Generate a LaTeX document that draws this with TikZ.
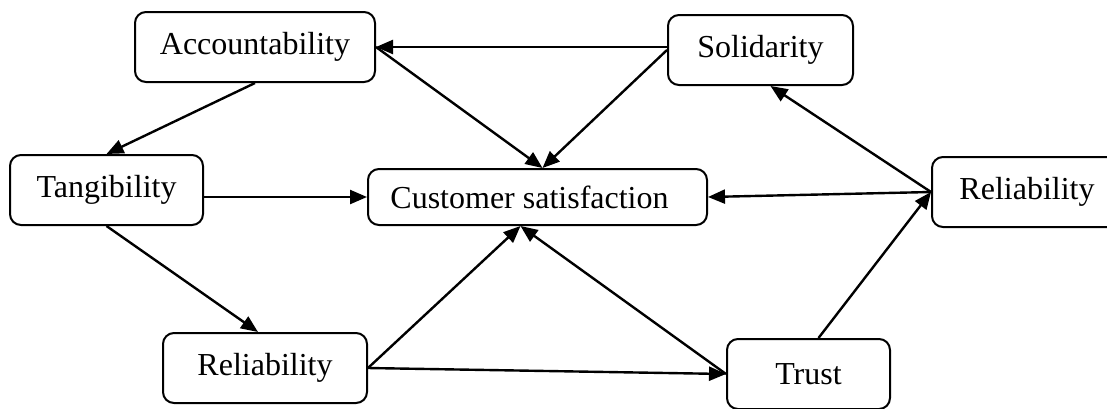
\documentclass[tikz,border=0pt]{standalone}
\usepackage{fontspec}
\setmainfont{Liberation Serif}
\usetikzlibrary{arrows.meta}
\begin{document}
\begin{tikzpicture}[x=1pt,y=-1pt,
  box/.style={draw,line width=2pt,rounded corners=11pt,inner sep=0pt,
    font=\fontsize{32}{38}\selectfont},
  arr/.style={line width=2.4pt,-{Triangle[length=17pt,width=14pt]}}]
\useasboundingbox (0,0) rectangle (1107,408);
\node[box,minimum width=240pt,minimum height=70pt] (acc) at (255,47) {Accountability};
\node[box,minimum width=185pt,minimum height=70pt] (sol) at (760.5,50) {Solidarity};
\node[box,minimum width=193pt,minimum height=70pt] (tan) at (106.5,190) {Tangibility};
\node[box,minimum width=339pt,minimum height=56pt] (cs) at (537.5,197) {Customer satisfaction\kern16pt};
\node[box,minimum width=190pt,minimum height=70pt] (relR) at (1027,192) {Reliability};
\node[box,minimum width=204pt,minimum height=70pt] (relB) at (265,368) {Reliability};
\node[box,minimum width=163pt,minimum height=70pt] (trust) at (808.5,374) {Trust};
\draw[arr] (sol.west |- acc.east) -- (acc.east);
\draw[arr] (sol.west) -- ([xshift=5pt]cs.north);
\draw[arr] (acc.east) -- ([xshift=5pt]cs.north);
\draw[arr] (acc.south) -- (tan.north);
\draw[arr] (tan.east |- cs.west) -- (cs.west);
\draw[arr] (tan.south) -- ([xshift=-7pt]relB.north);
\draw[arr] (relB.east) -- ([xshift=-17pt]cs.south);
\draw[arr] (trust.west) -- ([xshift=-17pt]cs.south);
\draw[arr] (relB.east) -- (trust.west);
\draw[arr] ([xshift=10pt]trust.north) -- (relR.west);
\draw[arr] (relR.west) -- (cs.east);
\draw[arr] (relR.west) -- ([xshift=10pt]sol.south);
\end{tikzpicture}
\end{document}
